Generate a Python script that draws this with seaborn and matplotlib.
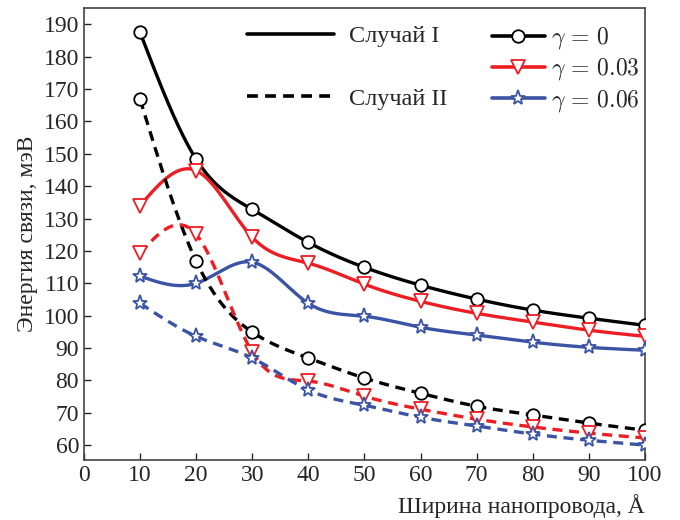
import numpy as np
import matplotlib
matplotlib.use("Agg")
import matplotlib.pyplot as plt
import seaborn as sns
from matplotlib.lines import Line2D

# ширина нанопровода, Å
width = [10, 20, 30, 40, 50, 60, 70, 80, 90, 100]

# Случай I
case1_g0 = [187.5, 148.3, 132.8, 122.6, 114.9, 109.4, 105.1, 101.7, 99.2, 97.0]
case1_g003 = [134.0, 144.8, 124.2, 116.2, 109.7, 104.4, 100.7, 98.0, 95.5, 93.6]
case1_g006 = [112.2, 110.0, 116.5, 103.8, 99.8, 96.4, 94.0, 91.8, 90.2, 89.3]

# Случай II
case2_g0 = [166.8, 116.8, 94.9, 86.9, 80.7, 76.0, 72.0, 69.3, 66.8, 64.6]
case2_g003 = [119.3, 125.1, 88.7, 79.8, 75.1, 71.1, 68.0, 65.6, 63.7, 62.2]
case2_g006 = [103.8, 93.6, 86.9, 77.0, 72.3, 68.6, 65.9, 63.4, 61.5, 60.0]

gamma_labels = [r"$\gamma\,=\,0$", r"$\gamma\,=\,0.03$", r"$\gamma\,=\,0.06$"]
case_labels = ["Случай I", "Случай II"]


def spline(x, y, n=400):
    # натуральный кубический сплайн, только для гладкой линии
    x = np.asarray(x, float)
    y = np.asarray(y, float)
    k = len(x)
    h = np.diff(x)
    A = np.zeros((k, k))
    b = np.zeros(k)
    A[0, 0] = A[-1, -1] = 1
    for i in range(1, k - 1):
        A[i, i - 1] = h[i - 1]
        A[i, i] = 2 * (h[i - 1] + h[i])
        A[i, i + 1] = h[i]
        b[i] = 6 * ((y[i + 1] - y[i]) / h[i] - (y[i] - y[i - 1]) / h[i - 1])
    M = np.linalg.solve(A, b)
    xs = np.linspace(x[0], x[-1], n)
    idx = np.clip(np.searchsorted(x, xs) - 1, 0, k - 2)
    x0, x1 = x[idx], x[idx + 1]
    hh = x1 - x0
    t0, t1 = x1 - xs, xs - x0
    ys = (M[idx] * t0**3 + M[idx + 1] * t1**3) / (6 * hh) \
        + (y[idx] / hh - M[idx] * hh / 6) * t0 \
        + (y[idx + 1] / hh - M[idx + 1] * hh / 6) * t1
    return xs, ys


sns.set_style("ticks")
plt.rcParams["font.family"] = ["Liberation Serif", "DejaVu Serif"]
plt.rcParams["mathtext.fontset"] = "cm"

fig = plt.figure(figsize=(6.8, 5.2), dpi=100)
ax = fig.add_axes([0.1235, 0.1154, 0.825, 0.869])

colors = ["black", "#ee1d23", "#3a53a4"]
markers = ["o", "v", "*"]
msizes = [9, 10, 11]
series = [[case1_g0, case1_g003, case1_g006], [case2_g0, case2_g003, case2_g006]]
dash_styles = ["-", (0, (3, 2))]

for ci, group in enumerate(series):
    for gi, vals in enumerate(group):
        xs, ys = spline(width, vals)
        sns.lineplot(x=xs, y=ys, ax=ax, color=colors[gi], lw=2.4,
                     linestyle=dash_styles[ci], zorder=2)
        ax.plot(width, vals, linestyle="none", marker=markers[gi],
                markersize=msizes[gi], markerfacecolor="white",
                markeredgecolor=colors[gi], markeredgewidth=1.3, zorder=3)

ax.set_xlim(0, 100)
ax.set_ylim(55.4, 195)
ax.set_xticks(np.arange(0, 101, 10))
ax.set_yticks(np.arange(60, 191, 10))
ax.tick_params(direction="in", length=5, labelsize=17, width=1,
               top=False, right=False)
for s in ax.spines.values():
    s.set_color("#444444")
    s.set_linewidth(1.2)

ax.set_xlabel("Ширина нанопровода, Å", fontsize=17, loc="right", labelpad=6)
ax.set_ylabel("Энергия связи, мэВ", fontsize=17, labelpad=4)

h1 = [Line2D([], [], color="black", lw=2.6, linestyle="-"),
      Line2D([], [], color="none"),
      Line2D([], [], color="black", lw=2.6, linestyle=(0, (3, 2)))]
leg1 = ax.legend(h1, [case_labels[0], " ", case_labels[1]], loc="upper left",
                 bbox_to_anchor=(0.29, 0.962), frameon=False, fontsize=17.5,
                 handlelength=3.6, handletextpad=0.6, labelspacing=0.38,
                 borderpad=0, borderaxespad=0)
ax.add_artist(leg1)

h2 = [Line2D([], [], color=colors[i], lw=2.6, marker=markers[i],
             markersize=msizes[i], markerfacecolor="white",
             markeredgecolor=colors[i], markeredgewidth=1.3)
      for i in range(3)]
ax.legend(h2, gamma_labels, loc="upper left", bbox_to_anchor=(0.727, 0.962),
          frameon=False, fontsize=17, handlelength=2.25, handletextpad=0.25,
          labelspacing=0.22, borderpad=0, borderaxespad=0)

fig.savefig("out.png", dpi=100)
